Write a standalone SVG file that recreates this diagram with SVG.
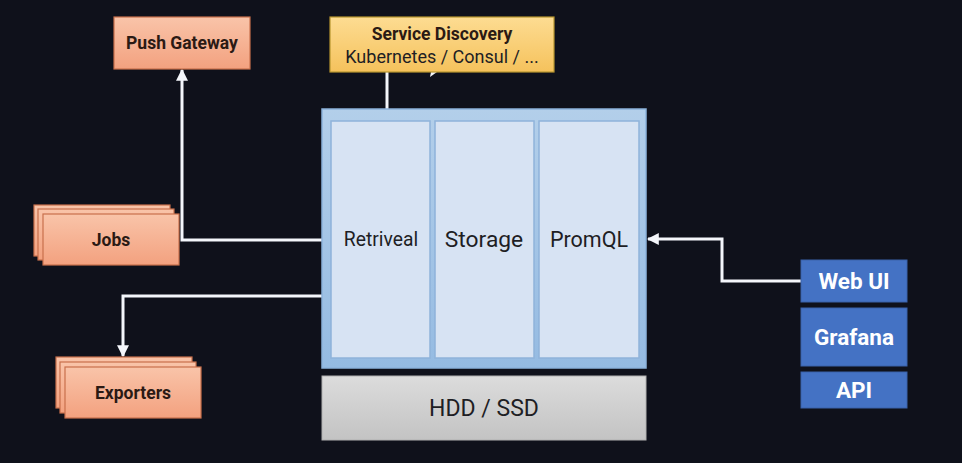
<svg xmlns="http://www.w3.org/2000/svg" width="962" height="463" viewBox="0 0 962 463">
<defs>
<linearGradient id="salmon" x1="0" y1="0" x2="0" y2="1"><stop offset="0" stop-color="#f9c4a9"/><stop offset="1" stop-color="#f3a17f"/></linearGradient>
<linearGradient id="yellow" x1="0" y1="0" x2="0" y2="1"><stop offset="0" stop-color="#fddc92"/><stop offset="1" stop-color="#f5c25c"/></linearGradient>
<linearGradient id="gray" x1="0" y1="0" x2="0" y2="1"><stop offset="0" stop-color="#dcdcdc"/><stop offset="1" stop-color="#c3c3c3"/></linearGradient>
<linearGradient id="outer" x1="0" y1="0" x2="0" y2="1"><stop offset="0" stop-color="#b3cfea"/><stop offset="1" stop-color="#95bbe2"/></linearGradient>
<marker id="arr" viewBox="0 0 10 10" refX="9" refY="5" markerWidth="4" markerHeight="4" orient="auto" markerUnits="strokeWidth"><path d="M0,0 L10,5 L0,10 Z" fill="#f4f6fb"/></marker>
<style>
.sal{fill:url(#salmon);stroke:#c8704c;stroke-width:1.2}
.blue{fill:#4472c4;stroke:#3a62aa;stroke-width:1}
.col{fill:#d7e3f3;stroke:#8fb3da;stroke-width:1.5}
.conn{fill:none;stroke:#f4f6fb;stroke-width:3}
.bt{font-family:Roboto,"Liberation Sans",sans-serif;font-weight:bold;fill:#2b1a14;text-anchor:middle;font-size:17.5px}
.wt{font-family:Roboto,"Liberation Sans",sans-serif;font-weight:bold;fill:#ffffff;text-anchor:middle;font-size:22.5px}
.rt{font-family:Roboto,"Liberation Sans",sans-serif;fill:#1e1e24;text-anchor:middle}
</style>
</defs>
<rect width="962" height="463" fill="#0f111b"/>

<g id="connectors">
<path class="conn" d="M322,240 H182 V70" marker-end="url(#arr)"/>
<path class="conn" d="M322,296 H123 V356" marker-end="url(#arr)"/>
<path class="conn" d="M801,281 H722 V239 H648" marker-end="url(#arr)"/>
<path class="conn" d="M387,109 V72"/>
<polygon points="430,77 437,72 431,72" fill="#f4f6fb"/>
</g>

<g id="push-gateway">
<rect class="sal" x="114" y="17" width="136" height="52"/>
<text class="bt" x="182" y="49">Push Gateway</text>
</g>

<g id="service-discovery">
<rect x="330" y="17" width="224" height="55" fill="url(#yellow)" stroke="#b8962f" stroke-width="1.2"/>
<text class="bt" x="442" y="40">Service Discovery</text>
<text class="rt" x="442" y="63" font-size="18" fill="#1e1a14">Kubernetes / Consul / ...</text>
</g>

<g id="jobs">
<rect class="sal" x="34" y="205" width="136" height="51"/>
<rect class="sal" x="38" y="209" width="136" height="51"/>
<rect class="sal" x="43" y="214" width="136" height="51"/>
<text class="bt" x="111" y="246">Jobs</text>
</g>

<g id="exporters">
<rect class="sal" x="56" y="357" width="136" height="51"/>
<rect class="sal" x="60" y="362" width="136" height="51"/>
<rect class="sal" x="65" y="367" width="136" height="51"/>
<text class="bt" x="133" y="399">Exporters</text>
</g>

<g id="prometheus-server">
<rect x="322" y="109" width="324" height="259" fill="url(#outer)" stroke="#8cb3dc" stroke-width="1.5"/>
</g>

<g id="retrieval">
<rect class="col" x="331" y="121" width="99" height="237"/>
<text class="rt" x="381" y="246" font-size="19.3">Retriveal</text>
</g>

<g id="storage">
<rect class="col" x="435" y="121" width="99" height="237"/>
<text class="rt" x="484" y="247" font-size="22.8">Storage</text>
</g>

<g id="promql">
<rect class="col" x="539" y="121" width="100" height="237"/>
<text class="rt" x="589" y="247" font-size="21.5">PromQL</text>
</g>

<g id="hdd-ssd">
<rect x="322" y="376" width="324" height="64" fill="url(#gray)" stroke="#b0b0b0" stroke-width="1"/>
<text class="rt" x="484" y="416" font-size="23">HDD / SSD</text>
</g>

<g id="web-ui">
<rect class="blue" x="801" y="260" width="106" height="42"/>
<text class="wt" x="854" y="289">Web UI</text>
</g>

<g id="grafana">
<rect class="blue" x="801" y="308" width="106" height="58"/>
<text class="wt" x="854" y="345">Grafana</text>
</g>

<g id="api">
<rect class="blue" x="801" y="372" width="106" height="36"/>
<text class="wt" x="854" y="398">API</text>
</g>
</svg>
